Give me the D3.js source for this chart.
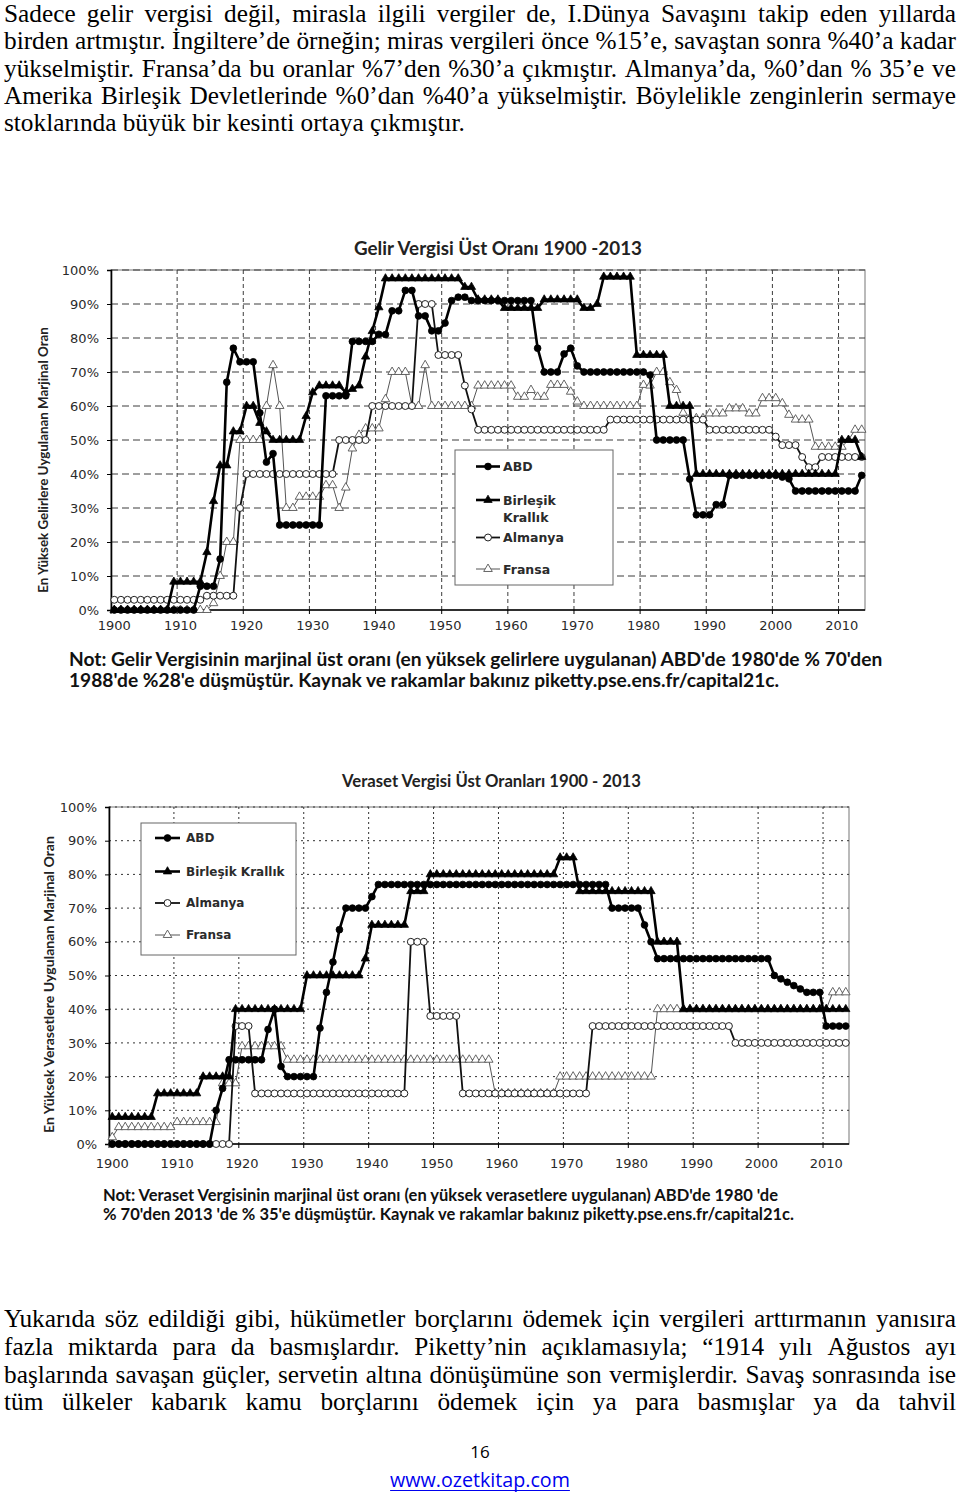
<!DOCTYPE html>
<html><head><meta charset="utf-8">
<script src="https://cdn.jsdelivr.net/npm/d3@7"></script>
<style>body{margin:0;background:#fff}svg{display:block}</style>
</head><body>
<svg id="page" width="960" height="1496"></svg>
<script>
// ---------------- DATA ----------------
const years = d3.range(1900, 2014);
const decadeLabels = ["1900","1910","1920","1930","1940","1950","1960","1970","1980","1990","2000","2010"];
const yTickValues = [0,10,20,30,40,50,60,70,80,90,100];
const seriesNames = ["ABD","Birleşik Krallık","Almanya","Fransa"];

// Top income tax rates (%), 1900-2013, one value per year (rows = decades)
const usIncome = [
 0,0,0,0,0,0,0,0,0,0,
 0,0,0,7,7,7,15,67,77,73,
 73,73,58,43.5,46,25,25,25,25,25,
 25,25,63,63,63,63,79,79,79,79,
 81.1,81,88,88,94,94,86.5,86.5,82.1,82.1,
 84.4,91,92,92,91,91,91,91,91,91,
 91,91,91,91,77,70,70,70,75.3,77,
 71.8,70,70,70,70,70,70,70,70,70,
 70,69.1,50,50,50,50,50,38.5,28,28,
 28,31,31,39.6,39.6,39.6,39.6,39.6,39.6,39.6,
 39.6,39.1,38.6,35,35,35,35,35,35,35,
 35,35,35,39.6];
const ukIncome = [
 0,0,0,0,0,0,0,0,0,8.3,
 8.3,8.3,8.3,8.3,17,32,42.5,42.5,52.5,52.5,
 60,60,55,52.5,50,50,50,50,50,57,
 64,66,66,66,66,64,65,66,74.5,82,
 89,97.5,97.5,97.5,97.5,97.5,97.5,97.5,97.5,97.5,
 97.5,97.5,97.5,95,95,91.3,91.3,91.3,91.3,88.8,
 88.8,88.8,88.8,88.8,88.8,91.3,91.3,91.3,91.3,91.3,
 91.3,88.8,88.8,90,98,98,98,98,98,75,
 75,75,75,75,60,60,60,60,40,40,
 40,40,40,40,40,40,40,40,40,40,
 40,40,40,40,40,40,40,40,40,40,
 50,50,50,45];
const deIncome = [
 3,3,3,3,3,3,3,3,3,3,
 3,3,3,3,4.2,4.2,4.2,4.2,4.2,30,
 40,40,40,40,40,40,40,40,40,40,
 40,40,40,40,50,50,50,50,50,60,
 60,60,60,60,60,60,90,90,90,75,
 75,75,75,66,59,53,53,53,53,53,
 53,53,53,53,53,53,53,53,53,53,
 53,53,53,53,53,56,56,56,56,56,
 56,56,56,56,56,56,56,56,56,56,
 53,53,53,53,53,53,53,53,53,53,
 51,48.5,48.5,48.5,45,42,42,45,45,45,
 45,45,45,45];
const frIncome = [
 0,0,0,0,0,0,0,0,0,0,
 0,0,0,0,0,2,10,20,20,50,
 50,50,50,60,72,60,30,30,33.3,33.3,
 33.3,33.3,36.7,36.7,30,36,47.5,51.5,53.4,53.4,
 53.4,62,70,70,70,60,60,72,60,60,
 60,60,60,60,60,66,66,66,66,66,
 66,62.7,62.7,64.7,62.7,62.7,66.2,66.2,66.2,64.2,
 61.3,60,60,60,60,60,60,60,60,60,
 66.2,66,70,70,67,64.7,58,56.4,56.4,56.4,
 57.8,57.8,57.8,59.3,59.3,59.3,57.8,57.8,62.3,62.3,
 62.3,60.8,57.4,56,56,56,48,48,48,48,
 48,50,53,53];

// Top inheritance tax rates (%), 1900-2013
const usInherit = [
 0,0,0,0,0,0,0,0,0,0,
 0,0,0,0,0,0,10,16.5,25,25,
 25,25,25,25,34,40,23,20,20,20,
 20,20,34.4,45,54,63.6,70,70,70,70,
 73.4,77,77,77,77,77,77,77,77,77,
 77,77,77,77,77,77,77,77,77,77,
 77,77,77,77,77,77,77,77,77,77,
 77,77,77,77,77,77,77,70,70,70,
 70,70,65,60,55,55,55,55,55,55,
 55,55,55,55,55,55,55,55,55,55,
 55,55,50,49,48,47,46,45,45,45,
 35,35,35,35];
const ukInherit = [
 8,8,8,8,8,8,8,15,15,15,
 15,15,15,15,20,20,20,20,20,40,
 40,40,40,40,40,40,40,40,40,40,
 50,50,50,50,50,50,50,50,50,55,
 65,65,65,65,65,65,75,75,75,80,
 80,80,80,80,80,80,80,80,80,80,
 80,80,80,80,80,80,80,80,80,85,
 85,85,75,75,75,75,75,75,75,75,
 75,75,75,75,60,60,60,60,40,40,
 40,40,40,40,40,40,40,40,40,40,
 40,40,40,40,40,40,40,40,40,40,
 40,40,40,40];
const deInherit = [
 0,0,0,0,0,0,0,0,0,0,
 0,0,0,0,0,0,0,0,0,35,
 35,35,15,15,15,15,15,15,15,15,
 15,15,15,15,15,15,15,15,15,15,
 15,15,15,15,15,15,60,60,60,38,
 38,38,38,38,15,15,15,15,15,15,
 15,15,15,15,15,15,15,15,15,15,
 15,15,15,15,35,35,35,35,35,35,
 35,35,35,35,35,35,35,35,35,35,
 35,35,35,35,35,35,30,30,30,30,
 30,30,30,30,30,30,30,30,30,30,
 30,30,30,30];
const frInherit = [
 2,5,5,5,5,5,5,5,5,5,
 6.5,6.5,6.5,6.5,6.5,6.5,6.5,18,18,18,
 29,29,29,29,29,29,29,25,25,25,
 25,25,25,25,25,25,25,25,25,25,
 25,25,25,25,25,25,25,25,25,25,
 25,25,25,25,25,25,25,25,25,15,
 15,15,15,15,15,15,15,15,15,20,
 20,20,20,20,20,20,20,20,20,20,
 20,20,20,20,40,40,40,40,40,40,
 40,40,40,40,40,40,40,40,40,40,
 40,40,40,40,40,40,40,40,40,40,
 40,45,45,45];

// ---------------- TEXT ----------------
const topParagraph = [
 "Sadece gelir vergisi değil, mirasla ilgili vergiler de, I.Dünya Savaşını takip eden yıllarda",
 "birden artmıştır. İngiltere’de örneğin; miras vergileri önce %15’e, savaştan sonra %40’a kadar",
 "yükselmiştir. Fransa’da bu oranlar %7’den %30’a çıkmıştır. Almanya’da, %0’dan % 35’e ve",
 "Amerika Birleşik Devletlerinde %0’dan %40’a yükselmiştir. Böylelikle zenginlerin sermaye",
 "stoklarında büyük bir kesinti ortaya çıkmıştır."];
const bottomParagraph = [
 "Yukarıda söz edildiği gibi, hükümetler borçlarını ödemek için vergileri arttırmanın yanısıra",
 "fazla miktarda para da basmışlardır. Piketty’nin açıklamasıyla; “1914 yılı Ağustos ayı",
 "başlarında savaşan güçler, servetin altına dönüşümüne son vermişlerdir. Savaş sonrasında ise",
 "tüm ülkeler kabarık kamu borçlarını ödemek için ya para basmışlar ya da tahvil"];

// ---------------- DRAWING ----------------
const svg = d3.select("#page");
const SERIF = "'Liberation Serif','Times New Roman',serif";
const SANS = "'DejaVu Sans',Verdana,sans-serif";
const TITLE = "Lato,'Open Sans',sans-serif";

function fitWidth(t, target){
  const w = t.node().getComputedTextLength();
  const fs = +t.attr("font-size");
  const nfs = fs * target / w;
  t.attr("font-size", nfs);
  return nfs;
}
function measureSize(text, family, weight, base, target){
  const p = svg.append("text").attr("font-family", family).attr("font-weight", weight)
    .attr("font-size", base).text(text);
  const w = p.node().getComputedTextLength();
  p.remove();
  return base * target / w;
}

// Body text with justification
const bodyFs = measureSize(topParagraph[4], SERIF, "normal", 20, 461);
function bodyLine(text, yb, full){
  const g = svg.append("g").attr("font-family", SERIF).attr("font-size", bodyFs).attr("fill", "#000");
  const words = text.split(" ");
  const nodes = words.map(w => g.append("text").attr("y", yb).text(w));
  const widths = nodes.map(n => n.node().getComputedTextLength());
  const gap = full ? (952 - d3.sum(widths)) / (words.length - 1) : bodyFs * 0.25;
  let cx = 4;
  nodes.forEach((n, i) => { n.attr("x", cx); cx += widths[i] + gap; });
}
topParagraph.forEach((t, i) => bodyLine(t, 22 + i * 27.3, i < 4));
bottomParagraph.forEach((t, i) => bodyLine(t, 1327 + i * 27.8, true));

// Page number and link
svg.append("text").attr("x", 480).attr("y", 1458).attr("text-anchor", "middle")
  .attr("font-family", "'Open Sans',sans-serif").attr("font-size", 17).attr("fill", "#000").text("16");
const link = svg.append("text").attr("x", 480).attr("y", 1487).attr("text-anchor", "middle")
  .attr("font-family", "'Open Sans',sans-serif").attr("font-size", 18).attr("fill", "#0000ee").text("www.ozetkitap.com");
fitWidth(link, 180);
const lw = link.node().getComputedTextLength();
svg.append("line").attr("x1", 480 - lw/2).attr("x2", 480 + lw/2).attr("y1", 1490.5).attr("y2", 1490.5)
  .attr("stroke", "#0000ee").attr("stroke-width", 1.2);

const styles = [
  {sym: d3.symbolCircle, size: 36, fill: "#000", stroke: "#000", lineColor: "#000", lw: 2.6, sw: 0.8},
  {sym: d3.symbolTriangle, size: 30, fill: "#000", stroke: "#000", lineColor: "#000", lw: 2.6, sw: 0.8},
  {sym: d3.symbolCircle, size: 38, fill: "#fff", stroke: "#222", lineColor: "#111", lw: 1.8, sw: 1},
  {sym: d3.symbolTriangle, size: 32, fill: "#fff", stroke: "#555", lineColor: "#555", lw: 1, sw: 0.9}
];

function drawChart(o){
  const g = svg.append("g");
  const x = d3.scaleBand().domain(years).range([o.left, o.right]).padding(0);
  const y = d3.scaleLinear().domain([0, 100]).range([o.bottom, o.top]);
  const cx = yr => x(yr) + x.bandwidth() / 2;

  g.append("rect").attr("x", o.left).attr("y", o.top).attr("width", o.right - o.left)
    .attr("height", o.bottom - o.top).attr("fill", "#fff").attr("stroke", "#8c8c8c").attr("stroke-width", 1.2);
  g.selectAll(null).data(yTickValues.filter(v => v > 0)).join("line")
    .attr("x1", o.left).attr("x2", o.right).attr("y1", d => y(d)).attr("y2", d => y(d))
    .attr("stroke", o.grid).attr("stroke-width", 1).attr("stroke-dasharray", o.hDash);
  g.selectAll(null).data(decadeLabels.slice(1).map(Number)).join("line")
    .attr("x1", d => x(d)).attr("x2", d => x(d)).attr("y1", o.top).attr("y2", o.bottom)
    .attr("stroke", o.grid).attr("stroke-width", 1).attr("stroke-dasharray", o.vDash);

  // axes
  const ya = g.append("g").attr("transform", `translate(${o.left},0)`)
    .call(d3.axisLeft(y).tickValues(yTickValues).tickFormat(d => d + "%").tickSize(4).tickPadding(8));
  ya.select(".domain").attr("stroke", "#000").attr("stroke-width", 1.6);
  ya.selectAll("text").attr("font-family", SANS).attr("font-size", 13).attr("fill", "#2a2a2a");
  ya.selectAll(".tick line").attr("stroke", "#000");
  g.append("line").attr("x1", o.left).attr("x2", o.right).attr("y1", o.bottom).attr("y2", o.bottom)
    .attr("stroke", "#000").attr("stroke-width", 1.6);
  g.selectAll(null).data(decadeLabels.map(Number)).join("line")
    .attr("x1", d => x(d)).attr("x2", d => x(d)).attr("y1", o.bottom).attr("y2", o.bottom + 4).attr("stroke", "#000");
  g.selectAll(null).data(decadeLabels).join("text")
    .attr("x", d => cx(+d)).attr("y", o.bottom + o.xLabelDy).attr("text-anchor", "middle")
    .attr("font-family", SANS).attr("font-size", 13).attr("fill", "#2a2a2a").text(d => d);

  // series (draw France, Germany, UK, US)
  const line = d3.line().x((d, i) => cx(years[i])).y(d => y(d));
  [3, 2, 1, 0].forEach(k => {
    const s = styles[k], vals = o.data[k];
    g.append("path").datum(vals).attr("d", line).attr("fill", "none")
      .attr("stroke", s.lineColor).attr("stroke-width", s.lw).attr("stroke-linejoin", "round");
    g.append("g").selectAll("path").data(vals).join("path")
      .attr("transform", (d, i) => `translate(${cx(years[i])},${y(d)})`)
      .attr("d", d3.symbol(s.sym, s.size)).attr("fill", s.fill).attr("stroke", s.stroke).attr("stroke-width", s.sw);
  });

  // legend
  const L = o.legend;
  g.append("rect").attr("x", L.x).attr("y", L.y).attr("width", L.w).attr("height", L.h)
    .attr("fill", "#fff").attr("stroke", "#666").attr("stroke-width", 1);
  L.rows.forEach((ry, k) => {
    const s = styles[k];
    g.append("line").attr("x1", L.lx0).attr("x2", L.lx1).attr("y1", ry).attr("y2", ry)
      .attr("stroke", s.lineColor).attr("stroke-width", s.lw);
    g.append("path").attr("transform", `translate(${(L.lx0 + L.lx1) / 2},${ry})`)
      .attr("d", d3.symbol(s.sym, s.size)).attr("fill", s.fill).attr("stroke", s.stroke).attr("stroke-width", s.sw);
    const lines = L.labels[k];
    lines.forEach((txt, j) => {
      g.append("text").attr("x", L.tx).attr("y", ry + j * L.lineGap).attr("dominant-baseline", "central")
        .attr("font-family", SANS).attr("font-weight", "bold").attr("font-size", L.fs).attr("fill", "#2b2b2b").text(txt);
    });
  });

  // title
  const t = g.append("text").attr("x", o.title.x).attr("y", o.title.y).attr("text-anchor", "middle")
    .attr("dominant-baseline", "central").attr("font-family", TITLE).attr("font-weight", "bold")
    .attr("font-size", 15).attr("fill", "#222").text(o.title.text);
  fitWidth(t, o.title.w);
  const yt = g.append("text").attr("transform", `translate(${o.ytitle.x},${o.ytitle.y}) rotate(-90)`)
    .attr("text-anchor", "middle").attr("dominant-baseline", "central").attr("font-family", TITLE)
    .attr("font-weight", "bold").attr("font-size", 13).attr("fill", "#222").text(o.ytitle.text);
  fitWidth(yt, o.ytitle.w);

  // note: one text element, two lines
  const N = o.note;
  const nfs = measureSize(N.lines[N.fitLine], TITLE, "bold", 15, N.w);
  const nt = g.append("text").attr("font-family", TITLE).attr("font-weight", "bold")
    .attr("font-size", nfs).attr("fill", "#111");
  nt.append("tspan").attr("x", N.x).attr("y", N.y1).text(N.lines[0]);
  nt.append("tspan").attr("x", N.x).attr("y", N.y2).text(N.lines[1]);
}

drawChart({
  left: 111, right: 865, top: 270, bottom: 610, xLabelDy: 20,
  grid: "#3c3c3c", hDash: "7,4", vDash: "4,3",
  data: [usIncome, ukIncome, deIncome, frIncome],
  legend: {x: 455, y: 450, w: 158, h: 135, lx0: 476, lx1: 500, tx: 503, fs: 12.5, lineGap: 17,
           rows: [466.5, 500, 537.5, 569],
           labels: [["ABD"], ["Birleşik", "Krallık"], ["Almanya"], ["Fransa"]]},
  title: {x: 498, y: 247, w: 288, text: "Gelir Vergisi Üst Oranı 1900 -2013"},
  ytitle: {x: 43, y: 460, w: 266, text: "En Yüksek Gelirlere Uygulanan Marjinal Oran"},
  note: {x: 69, y1: 665.5, y2: 686.5, w: 814, fitLine: 0,
         lines: ["Not: Gelir Vergisinin marjinal üst oranı (en yüksek gelirlere uygulanan) ABD'de 1980'de % 70'den",
                 "1988'de %28'e düşmüştür. Kaynak ve rakamlar bakınız piketty.pse.ens.fr/capital21c."]}
});

drawChart({
  left: 109, right: 849, top: 807, bottom: 1144, xLabelDy: 24,
  grid: "#333", hDash: "2,4", vDash: "2,3",
  data: [usInherit, ukInherit, deInherit, frInherit],
  legend: {x: 141, y: 823, w: 155, h: 132, lx0: 155, lx1: 180, tx: 186, fs: 12, lineGap: 16,
           rows: [838, 871.5, 903, 935],
           labels: [["ABD"], ["Birleşik Krallık"], ["Almanya"], ["Fransa"]]},
  title: {x: 491.5, y: 781, w: 299, text: "Veraset Vergisi Üst Oranları 1900 - 2013"},
  ytitle: {x: 48, y: 984.5, w: 297, text: "En Yüksek Verasetlere Uygulanan Marjinal Oran"},
  note: {x: 103, y1: 1200.5, y2: 1220, w: 692, fitLine: 1,
         lines: ["Not: Veraset Vergisinin marjinal üst oranı (en yüksek verasetlere uygulanan) ABD'de 1980 'de",
                 "% 70'den 2013 'de % 35'e düşmüştür. Kaynak ve rakamlar bakınız piketty.pse.ens.fr/capital21c."]}
});
</script>
</body></html>
